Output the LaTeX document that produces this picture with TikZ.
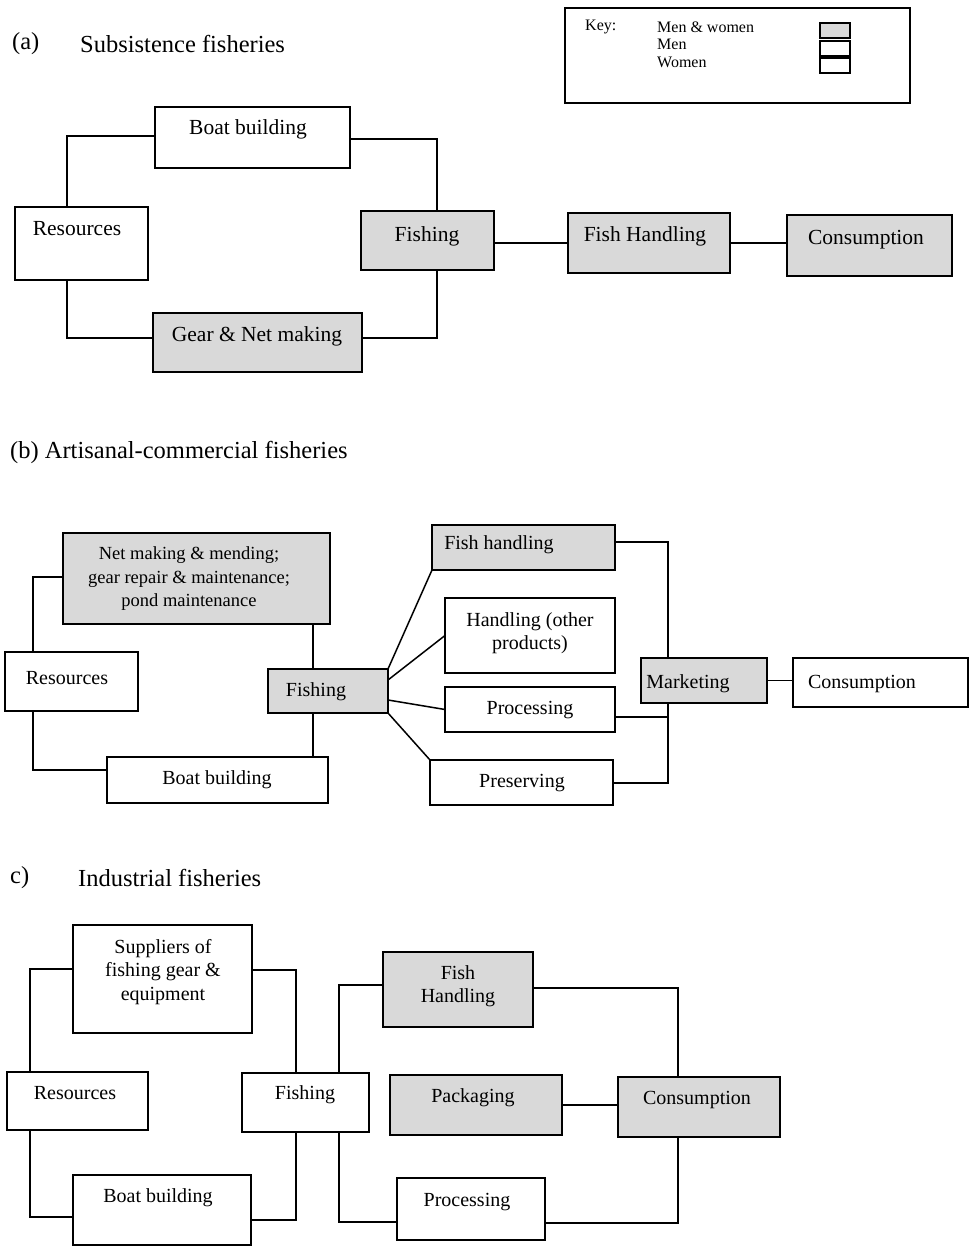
\documentclass[tikz,border=0pt]{standalone}
\usepackage{fontspec}
\setmainfont{Liberation Serif}
\usetikzlibrary{calc}
\tikzset{
  box/.style={draw=black, line width=1.6pt, inner sep=0pt, outer sep=0pt, fill=white},
  shaded/.style={fill=black!15},
  conn/.style={draw=black, line width=1.5pt},
  lbl/.style={inner sep=0pt, font=\fontsize{20}{23.5}\selectfont, align=center},
  lbla/.style={lbl, font=\fontsize{21.5}{25}\selectfont},
  ttl/.style={inner sep=0pt, anchor=west, font=\fontsize{24.5}{28}\selectfont},
  keytxt/.style={inner sep=0pt, anchor=west, font=\fontsize{16}{18}\selectfont},
}
\newcommand\mkbox[6]{%
  \node[box,#6,minimum width={(#4)-(#2)},minimum height={(#5)-(#3)}] (#1)
    at ({((#2)+(#4))/2},{((#3)+(#5))/2}) {};}
\begin{document}
\begin{tikzpicture}[x=1pt,y=-1pt]
\useasboundingbox[fill=white] (0,0) rectangle (971,1249);

% ---------------- (a) ----------------
\node[ttl] (aT1) at (12,44) {(a)};
\node[ttl] (aT2) at (80,44) {Subsistence fisheries};

% key
\mkbox{key}{565}{8}{910}{103}{line width=1.8pt}
\node[keytxt] (keyK) at (585,27) {Key:};
\node[keytxt] (keyMW) at (657,27) {Men \& women};
\node[keytxt] (keyM) at (657,44) {Men};
\node[keytxt] (keyW) at (657,62) {Women};
\mkbox{sqA}{820}{23}{850}{38}{shaded,line width=1.3pt}
\mkbox{sqB}{820}{41}{850}{56}{line width=1.3pt}
\mkbox{sqC}{820}{58}{850}{73}{line width=1.3pt}

\mkbox{aRes}{15}{207}{148}{280}{}
\mkbox{aBB}{155}{107}{350}{168}{}
\mkbox{aFish}{361}{211}{494}{270}{shaded}
\mkbox{aGear}{153}{313}{362}{372}{shaded}
\mkbox{aFH}{568}{213}{730}{273}{shaded}
\mkbox{aCons}{787}{215}{952}{276}{shaded}

\node[lbla] (aResT) at (77,229) {Resources};
\node[lbla] (aBBT) at (248,129) {Boat building};
\node[lbla] (aFishT) at (427,236) {Fishing};
\node[lbla] (aGearT) at (257,336) {Gear \& Net making};
\node[lbla] (aFHT) at (645,236) {Fish Handling};
\node[lbla] (aConsT) at (866,240) {Consumption};

\draw[conn] ([xshift=52pt]aRes.north west) |- ([yshift=-29pt]aBB.north west);
\draw[conn] ([yshift=-32pt]aBB.north east) -| ([xshift=76pt]aFish.north west);
\draw[conn] ([xshift=76pt]aFish.south west) |- ([yshift=-25pt]aGear.north east);
\draw[conn] ([xshift=52pt]aRes.south west) |- ([yshift=-25pt]aGear.north west);
\draw[conn] (aFish.east |- aFH.west) -- (aFH.west);
\draw[conn] (aFH.east) -- (aCons.west |- aFH.east);

% ---------------- (b) ----------------
\node[ttl] (bT) at (10,452) {(b) Artisanal-commercial fisheries};

\mkbox{bNet}{63}{533}{330}{624}{shaded}
\mkbox{bRes}{5}{652}{138}{711}{}
\mkbox{bBB}{107}{757}{328}{803}{}
\mkbox{bFish}{268}{669}{388}{713}{shaded}
\mkbox{bFH}{432}{525}{615}{570}{shaded}
\mkbox{bHop}{445}{598}{615}{673}{}
\mkbox{bProc}{445}{687}{615}{732}{}
\mkbox{bPres}{430}{760}{613}{805}{}
\mkbox{bMkt}{641}{658}{767}{703}{shaded}
\mkbox{bCons}{793}{658}{968}{707}{}

\node[lbl,font=\fontsize{18.5}{23.5}\selectfont] (bNetT) at (189,579)
  {Net making \& mending;\\gear repair \& maintenance;\\pond maintenance};
\node[lbl] (bResT) at (67,678) {Resources};
\node[lbl] (bBBT) at (217,780) {Boat building};
\node[lbl] (bFishT) at (316,692) {Fishing};
\node[lbl] (bFHT) at (499,545) {Fish handling};
\node[lbl] (bHopT) at (530,633) {Handling (other\\products)};
\node[lbl] (bProcT) at (530,710) {Processing};
\node[lbl] (bPresT) at (522,783) {Preserving};
\node[lbl] (bMktT) at (688,684) {Marketing};
\node[lbl] (bConsT) at (862,684) {Consumption};

\draw[conn] ([xshift=28pt]bRes.north west) |- ([yshift=-44pt]bNet.north west);
\draw[conn] ([xshift=-17pt]bNet.south east) -- ([xshift=45pt]bFish.north west);
\draw[conn] ([xshift=45pt]bFish.south west) -- ([xshift=-15pt]bBB.north east);
\draw[conn] ([xshift=28pt]bRes.south west) |- ([yshift=-13pt]bBB.north west);
\draw[conn] (bFish.north east) -- (bFH.south west);
\draw[conn] ([yshift=-11pt]bFish.north east) -- (bHop.west);
\draw[conn] ([yshift=13pt]bFish.south east) -- (bProc.west);
\draw[conn] (bFish.south east) -- (bPres.north west);
\draw[conn] ([yshift=-17pt]bFH.north east) -| ([xshift=27pt]bMkt.north west);
\draw[conn] ([yshift=-30pt]bProc.north east) -| ([xshift=27pt]bMkt.south west);
\draw[conn] ([yshift=-23pt]bPres.north east) -| ([xshift=27pt]bMkt.south west);
\draw[conn] (bMkt.east) -- (bCons.west |- bMkt.east);

% ---------------- (c) ----------------
\node[ttl] (cT1) at (10,878) {c)};
\node[ttl] (cT2) at (78,878) {Industrial fisheries};

\mkbox{cSup}{73}{925}{252}{1033}{}
\mkbox{cRes}{7}{1072}{148}{1130}{}
\mkbox{cFish}{242}{1073}{369}{1132}{}
\mkbox{cBB}{73}{1175}{251}{1245}{}
\mkbox{cFH}{383}{952}{533}{1027}{shaded}
\mkbox{cPack}{390}{1075}{562}{1135}{shaded}
\mkbox{cCons}{618}{1077}{780}{1137}{shaded}
\mkbox{cProc}{397}{1178}{545}{1240}{}

\node[lbl] (cSupT) at (163,972) {Suppliers of\\fishing gear \&\\equipment};
\node[lbl] (cResT) at (75,1093) {Resources};
\node[lbl] (cFishT) at (305,1095) {Fishing};
\node[lbl] (cBBT) at (158,1198) {Boat building};
\node[lbl] (cFHT) at (458,986) {Fish\\Handling};
\node[lbl] (cPackT) at (473,1098) {Packaging};
\node[lbl] (cConsT) at (697,1100) {Consumption};
\node[lbl] (cProcT) at (467,1202) {Processing};

\draw[conn] ([xshift=23pt]cRes.north west) |- ([yshift=-44pt]cSup.north west);
\draw[conn] ([yshift=-45pt]cSup.north east) -| ([xshift=54pt]cFish.north west);
\draw[conn] ([xshift=54pt]cFish.south west) |- ([yshift=-45pt]cBB.north east);
\draw[conn] ([xshift=23pt]cRes.south west) |- ([yshift=-42pt]cBB.north west);
\draw[conn] ([xshift=97pt]cFish.north west) |- ([yshift=-33pt]cFH.north west);
\draw[conn] ([xshift=97pt]cFish.south west) |- ([yshift=-44pt]cProc.north west);
\draw[conn] ([yshift=-36pt]cFH.north east) -| ([xshift=60pt]cCons.north west);
\draw[conn] (cPack.east) -- (cCons.west |- cPack.east);
\draw[conn] ([yshift=-45pt]cProc.north east) -| ([xshift=60pt]cCons.south west);
\end{tikzpicture}
\end{document}
